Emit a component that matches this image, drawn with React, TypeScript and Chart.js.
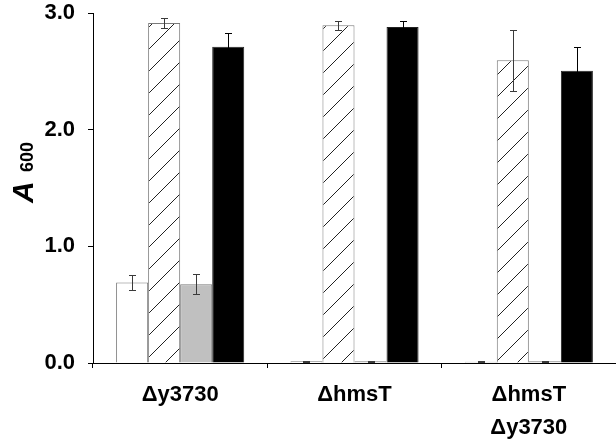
import React, { useEffect, useRef } from "react";
import { Chart, registerables } from "chart.js";

Chart.register(...registerables);

const categories: (string | string[])[] = ["Δy3730", "ΔhmsT", ["ΔhmsT", "Δy3730"]];
const whiteValues = [0.69, 0.015, 0.01];
const whiteErrors = [0.065, 0.005, 0.003];
const hatchedValues = [2.915, 2.895, 2.595];
const hatchedErrors = [0.045, 0.04, 0.26];
const grayValues = [0.675, 0.015, 0.015];
const grayErrors = [0.085, 0.005, 0.005];
const blackValues = [2.71, 2.88, 2.505];
const blackErrors = [0.115, 0.055, 0.2];
const yTicks = [0, 1, 2, 3];

function makeHatch(): CanvasPattern | string {
  const size = 22;
  const c = document.createElement("canvas");
  c.width = size;
  c.height = size;
  const g = c.getContext("2d");
  if (!g) return "#fff";
  g.fillStyle = "#ffffff";
  g.fillRect(0, 0, size, size);
  g.strokeStyle = "#222";
  g.lineWidth = 1;
  g.beginPath();
  g.moveTo(-2, size + 2);
  g.lineTo(size + 2, -2);
  g.moveTo(-2, 2);
  g.lineTo(2, -2);
  g.moveTo(size - 2, size + 2);
  g.lineTo(size + 2, size - 2);
  g.stroke();
  const p = g.createPattern(c, "repeat");
  return p || "#fff";
}

const errorBarPlugin = {
  id: "errorBars",
  afterDatasetsDraw(chart: any) {
    const ctx = chart.ctx;
    const yScale = chart.scales.y;
    ctx.save();
    ctx.lineWidth = 1;
    chart.data.datasets.forEach((ds: any, i: number) => {
      const meta = chart.getDatasetMeta(i);
      const errs: number[] = ds.errors || [];
      ctx.strokeStyle = ds.errorColor || "#3a3a3a";
      meta.data.forEach((bar: any, j: number) => {
        const v = ds.data[j];
        const e = errs[j] || 0;
        const x = Math.round(bar.x) + 0.5;
        const yTop = Math.round(yScale.getPixelForValue(v + e)) + 0.5;
        const yBot = Math.round(yScale.getPixelForValue(Math.max(0, v - e))) + 0.5;
        ctx.beginPath();
        ctx.moveTo(x, yTop);
        ctx.lineTo(x, yBot);
        ctx.moveTo(x - 3.5, yTop);
        ctx.lineTo(x + 3.5, yTop);
        ctx.moveTo(x - 3.5, yBot);
        ctx.lineTo(x + 3.5, yBot);
        ctx.stroke();
      });
    });
    ctx.restore();
  },
};

const yTitlePlugin = {
  id: "yTitle",
  afterDraw(chart: any) {
    const ctx = chart.ctx;
    ctx.save();
    ctx.translate(33, 203);
    ctx.rotate(-Math.PI / 2);
    ctx.fillStyle = "#000";
    ctx.textAlign = "left";
    ctx.textBaseline = "alphabetic";
    ctx.font = "italic bold 30px 'Liberation Sans', Arial, sans-serif";
    ctx.fillText("A", 0, 0);
    ctx.font = "bold 18px 'Liberation Sans', Arial, sans-serif";
    ctx.fillText("600", 31, 0);
    ctx.restore();
  },
};

export default function App() {
  const ref = useRef<HTMLCanvasElement>(null);
  useEffect(() => {
    if (!ref.current) return;
    const hatch = makeHatch();
    const border = "#7a7a7a";
    const chart = new Chart(ref.current, {
      type: "bar",
      data: {
        labels: categories as any,
        datasets: [
          { label: "white", data: whiteValues, errors: whiteErrors, backgroundColor: "#ffffff", borderColor: border, borderWidth: 1 } as any,
          { label: "hatched", data: hatchedValues, errors: hatchedErrors, backgroundColor: hatch, borderColor: border, borderWidth: 1 } as any,
          { label: "gray", data: grayValues, errors: grayErrors, backgroundColor: "#c0c0c0", borderColor: border, borderWidth: 1 } as any,
          { label: "black", data: blackValues, errors: blackErrors, errorColor: "#000", backgroundColor: "#000000", borderColor: "#222", borderWidth: 1 } as any,
        ],
      },
      options: {
        responsive: false,
        animation: false,
        devicePixelRatio: 1,
        layout: { padding: { top: 13, right: 0, left: 0, bottom: 0 } },
        plugins: { legend: { display: false }, tooltip: { enabled: false } },
        datasets: { bar: { categoryPercentage: 0.735, barPercentage: 1 } },
        scales: {
          x: {
            type: "category",
            offset: true,
            grid: { display: true, drawOnChartArea: false, drawTicks: true, tickLength: 5, offset: true, color: "#000" },
            border: { display: true, color: "#000", width: 1 },
            ticks: {
              color: "#000",
              padding: 10,
              maxRotation: 0,
              font: { family: "'Liberation Sans', Arial, sans-serif", size: 22, weight: "bold", lineHeight: 1.5 },
            },
            afterFit(scale: any) {
              scale.height = 77;
              scale.paddingLeft = 0;
              scale.paddingRight = 0;
            },
          },
          y: {
            min: 0,
            max: 3,
            afterBuildTicks(scale: any) {
              scale.ticks = yTicks.map((v) => ({ value: v }));
            },
            grid: { display: true, drawOnChartArea: false, drawTicks: true, tickLength: 5, color: "#000" },
            border: { display: true, color: "#000", width: 1 },
            ticks: {
              color: "#000",
              padding: 13,
              font: { family: "'Liberation Sans', Arial, sans-serif", size: 22, weight: "bold" },
              callback: (v: any) => Number(v).toFixed(1),
            },
            afterFit(scale: any) {
              scale.width = 93;
              scale.paddingTop = 0;
              scale.paddingBottom = 0;
            },
          },
        },
      },
      plugins: [errorBarPlugin, yTitlePlugin],
    });
    return () => chart.destroy();
  }, []);
  return (
    <div style={{ position: "fixed", left: 0, top: 0, width: 616, height: 440, background: "#fff" }}>
      <canvas ref={ref} width={616} height={440} style={{ width: 616, height: 440, display: "block" }} />
    </div>
  );
}
